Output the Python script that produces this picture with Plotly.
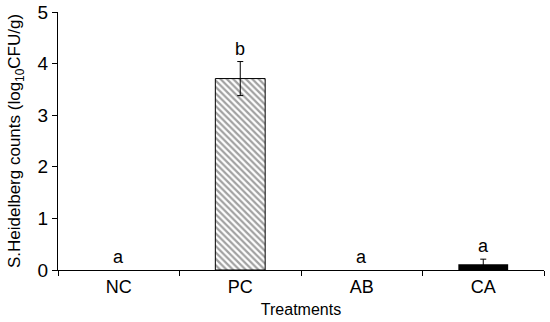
import plotly.graph_objects as go

categories = ["NC", "PC", "AB", "CA"]
values = [0.0, 3.71, 0.0, 0.11]
errors = [0.0, 0.33, 0.0, 0.10]
letters = ["a", "b", "a", "a"]
y_ticks = [0, 1, 2, 3, 4, 5]

font_family = "Liberation Sans, Arial, sans-serif"

fig = go.Figure()
fig.add_trace(go.Bar(
    x=categories, y=values,
    width=0.41,
    marker=dict(
        color=["white", "white", "white", "black"],
        line=dict(color="black", width=[0, 1, 0, 0]),
        pattern=dict(shape=["", "\\", "", ""], size=4.5, solidity=0.5,
                     fgcolor="black", bgcolor="white", fillmode="overlay"),
    ),
    showlegend=False, hoverinfo="skip",
))

# error bars only where an error exists
err_x = [c for c, e in zip(categories, errors) if e > 0]
err_y = [v for v, e in zip(values, errors) if e > 0]
err_e = [e for e in errors if e > 0]
fig.add_trace(go.Scatter(
    x=err_x, y=err_y, mode="markers", marker=dict(size=0.1, color="rgba(0,0,0,0)"),
    error_y=dict(type="data", array=err_e, visible=True, color="black",
                 thickness=1, width=3),
    showlegend=False, hoverinfo="skip",
))

for c, v, e, t in zip(categories, values, errors, letters):
    fig.add_annotation(x=c, y=v + e, text=t, showarrow=False, yanchor="bottom",
                       yshift=1, font=dict(family=font_family, size=18, color="black"))

fig.update_layout(
    width=550, height=322,
    margin=dict(l=58, r=6, t=12, b=52, autoexpand=False),
    plot_bgcolor="white", paper_bgcolor="white",
    font=dict(family=font_family, color="black"),
)
fig.update_xaxes(
    type="category", categoryorder="array", categoryarray=categories,
    showline=True, linecolor="black", linewidth=1,
    ticks="outside", tickson="boundaries", ticklen=5, tickcolor="black",
    tickfont=dict(size=18), showgrid=False, automargin=False,
    title=dict(text="Treatments", font=dict(size=16), standoff=8),
)
fig.update_yaxes(
    range=[0, 5], tickvals=y_ticks, showline=True, linecolor="black", linewidth=1,
    ticks="outside", ticklen=5, tickcolor="black", tickfont=dict(size=19),
    showgrid=False, zeroline=False, automargin=False,
    title=dict(text="S.Heidelberg counts (log<sub>10</sub>CFU/g)", font=dict(size=17), standoff=12),
)

fig.write_html("out.html", config={"displayModeBar": False},
               post_script="document.body.style.margin='0';")
